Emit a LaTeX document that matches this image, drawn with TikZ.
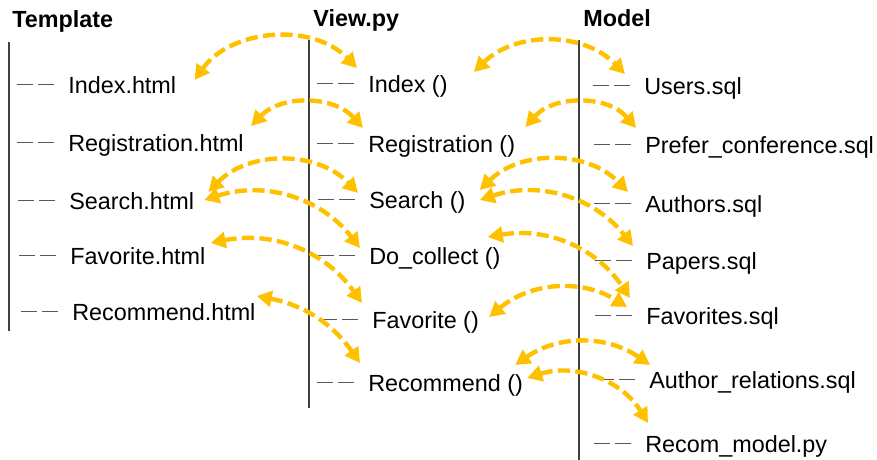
\documentclass[tikz,border=0pt]{standalone}
\usepackage{fontspec}
\setmainfont{Liberation Sans}
\usetikzlibrary{arrows.meta}
\definecolor{amber}{HTML}{FFC000}
\definecolor{rulegray}{HTML}{404040}

\begin{document}
\begin{tikzpicture}[x=0.02cm, y=-0.02cm,
  item/.style={anchor=base west, inner sep=0pt, font=\fontsize{13.3pt}{16pt}\selectfont},
  head/.style={item, font=\fontsize{13.3pt}{16pt}\selectfont\bfseries},
  rail/.style={draw=rulegray, line width=0.8pt},
  stub/.style={draw=black!65, line width=0.75pt, dash pattern=on 9pt off 3pt},
  link/.style={draw=amber, line width=2.5pt, dash pattern=on 7pt off 3pt,
    {Triangle[length=8.5pt,width=9pt]}-{Triangle[length=8.5pt,width=9pt]}}]
  \useasboundingbox (0,0) rectangle (877,460);
  \node[head] (tpl) at (12,27) {Template};
  \node[head] (view) at (313,26) {View.py};
  \node[head] (model) at (583,26) {Model};
  \draw[rail] (9,42) -- (9,331);
  \draw[rail] (309,40) -- (309,408);
  \draw[rail] (579,40) -- (579,460);
  \node[item] (tIndex) at (68,93) {Index.html};
  \node[item] (tReg) at (68,151) {Registration.html};
  \node[item] (tSearch) at (69,209) {Search.html};
  \node[item] (tFav) at (70,264) {Favorite.html};
  \node[item] (tRec) at (72,320) {Recommend.html};
  \node[item] (vIndex) at (368,92) {Index ()};
  \node[item] (vReg) at (368,152) {Registration ()};
  \node[item] (vSearch) at (369,208) {Search ()};
  \node[item] (vCollect) at (369,264) {Do\_collect ()};
  \node[item] (vFav) at (372,328) {Favorite ()};
  \node[item] (vRec) at (368,391) {Recommend ()};
  \node[item] (mUsers) at (644,94) {Users.sql};
  \node[item] (mPrefer) at (645,153) {Prefer\_conference.sql};
  \node[item] (mAuthors) at (645,212) {Authors.sql};
  \node[item] (mPapers) at (646,269) {Papers.sql};
  \node[item] (mFavs) at (646,324) {Favorites.sql};
  \node[item] (mRel) at (649,388) {Author\_relations.sql};
  \node[item] (mRecom) at (645,452) {Recom\_model.py};
  \foreach \n in {tIndex,tReg,tSearch,tFav,tRec,vIndex,vReg,vSearch,vCollect,vFav,vRec,
                  mUsers,mPrefer,mAuthors,mPapers,mFavs,mRel,mRecom}
    \draw[stub] ([shift={(-51,-8.5)}]\n.base west) -- ++(37,0);
  \draw[link] ([shift={(18,-13)}]tIndex.base east) to[bend left=50] ([shift={(-11,-24)}]vIndex.base west);
  \draw[link] ([shift={(7,-25)}]tReg.base east) to[bend left=47] ([shift={(-5,-24)}]vReg.base west);
  \draw[link] ([shift={(14,-17)}]tSearch.base east) to[bend left=46] ([shift={(-11,-15)}]vSearch.base west);
  \draw[link] ([shift={(10,-9)}]tSearch.base east) to[bend left=35] ([shift={(-9,-16)}]vCollect.base west);
  \draw[link] ([shift={(5,-21)}]tFav.base east) to[bend left=33] ([shift={(-10,-25)}]vFav.base west);
  \draw[link] ([shift={(1,-24)}]tRec.base east) to[bend left=22] ([shift={(-8,-28)}]vRec.base west);
  \draw[link] ([shift={(26,-20)}]vIndex.base east) to[bend left=45] ([shift={(-19,-20)}]mUsers.base west);
  \draw[link] ([shift={(10,-25)}]vReg.base east) to[bend left=49] ([shift={(-9,-25)}]mPrefer.base west);
  \draw[link] ([shift={(14,-18)}]vSearch.base east) to[bend left=45] ([shift={(-17,-20)}]mAuthors.base west);
  \draw[link] ([shift={(14,-8)}]vSearch.base east) to[bend left=35] ([shift={(-13,-23)}]mPapers.base west);
  \draw[link] ([shift={(-13,-27)}]vCollect.base east) to[bend left=33] ([shift={(-16,-26)}]mFavs.base west);
  \draw[link] ([shift={(10,-11)}]vFav.base east) to[bend left=36] ([shift={(-19,-17)}]mFavs.base west);
  \draw[link] ([shift={(-8,-26)}]vRec.base east) to[bend left=35] ([shift={(1,-23)}]mRel.base west);
  \draw[link] ([shift={(4,-13)}]vRec.base east) to[bend left=38] ([shift={(3,-29)}]mRecom.base west);
\end{tikzpicture}
\end{document}
